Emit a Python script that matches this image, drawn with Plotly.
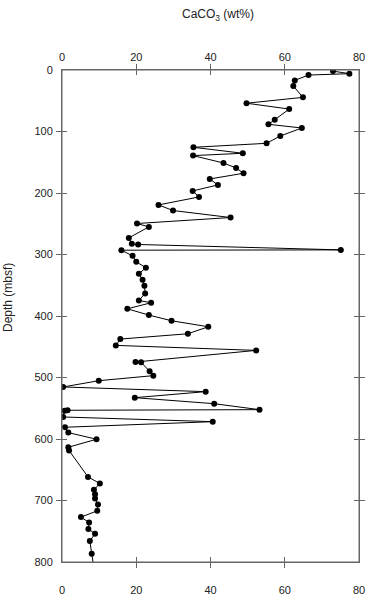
import plotly.graph_objects as go

caco3 = [73.0, 77.4, 66.4, 62.7, 62.3, 64.9, 49.7, 61.2, 57.3, 55.6, 64.6,
         58.8, 55.1, 35.4, 48.7, 35.3, 43.5, 46.9, 48.9, 39.8, 42.0, 35.2,
         36.9, 26.0, 29.9, 45.4, 20.2, 23.4, 18.0, 18.8, 20.5, 75.1, 16.0,
         19.0, 20.0, 22.6, 20.7, 21.7, 22.2, 22.4, 20.7, 24.0, 17.6, 23.4,
         29.5, 39.4, 33.9, 15.7, 14.5, 52.3, 19.8, 21.3, 23.6, 24.6, 9.9,
         0.3, 38.7, 19.6, 41.0, 53.2, 1.5, 0.7, 0.3, 40.6, 0.8, 1.7, 9.3,
         1.7, 1.9, 7.0, 10.2, 8.6, 8.9, 8.9, 9.7, 9.5, 5.1, 7.3, 7.1, 8.9,
         7.5, 8.0, 8.5]
depth = [1.8, 6.0, 8.2, 16.9, 26.0, 44.5, 54.0, 63.5, 80.8, 88.3, 94.3,
         107.3, 119.2, 125.7, 135.4, 139.2, 151.2, 159.3, 167.9, 177.2, 186.9,
         196.6, 206.4, 219.4, 228.5, 239.9, 249.6, 255.1, 273.0, 282.7, 283.7,
         292.5, 293.0, 302.2, 311.9, 321.6, 331.4, 341.1, 350.9, 363.3, 374.7,
         378.5, 388.3, 398.5, 407.7, 417.5, 428.9, 437.5, 447.8, 455.9, 474.8,
         475.3, 490.0, 497.0, 505.2, 515.4, 523.0, 532.8, 542.6, 552.3, 553.3,
         553.9, 564.2, 571.8, 580.9, 589.6, 600.4, 613.4, 618.8, 661.6, 672.4,
         682.7, 689.7, 696.8, 706.5, 716.8, 727.0, 735.8, 746.5, 754.1, 766.0,
         786.6, 806.0]

x_ticks = [0, 20, 40, 60, 80]
y_ticks = [0, 100, 200, 300, 400, 500, 600, 700, 800]

FAM = "Liberation Sans, Arial, sans-serif"
tick_font = dict(family=FAM, size=11, color="#222")
title_font = dict(family=FAM, size=12, color="#222")
AXC = "#666"

fig = go.Figure()
fig.add_trace(go.Scatter(
    x=caco3, y=depth, mode="lines+markers",
    line=dict(color="black", width=1),
    marker=dict(color="black", size=6),
    showlegend=False, hoverinfo="skip"))
# dummy traces so that the label-only axes are drawn
for xa, ya in [("x2", "y"), ("x3", "y"), ("x", "y2")]:
    fig.add_trace(go.Scatter(x=[None], y=[None], xaxis=xa, yaxis=ya,
                             mode="markers", showlegend=False,
                             hoverinfo="skip"))

frame = dict(showgrid=False, zeroline=False, showline=True, linecolor=AXC,
             linewidth=1, ticks="inside", ticklen=5, tickcolor=AXC,
             tickwidth=1, mirror="allticks", showticklabels=False,
             automargin=False)
labels = dict(showgrid=False, zeroline=False, showline=False,
              ticks="outside", tickcolor="rgba(0,0,0,0)",
              tickfont=tick_font, automargin=False)

fig.update_layout(
    width=370, height=600,
    margin=dict(l=62, r=11, t=70, b=38),
    plot_bgcolor="white", paper_bgcolor="white",
    font=tick_font,
    xaxis=dict(range=[0, 80], tickvals=x_ticks, side="bottom", **frame),
    xaxis2=dict(range=[0, 80], tickvals=x_ticks, side="top",
                overlaying="x", anchor="y", ticklen=4, **labels),
    xaxis3=dict(range=[0, 80], tickvals=x_ticks, side="bottom",
                overlaying="x", anchor="y", ticklen=18, **labels),
    yaxis=dict(range=[800, 0], tickvals=y_ticks, **frame),
    yaxis2=dict(range=[800, 0], tickvals=y_ticks, side="left",
                overlaying="y", anchor="x", ticklen=6, **labels),
    shapes=[dict(type="rect", xref="paper", yref="paper",
                 x0=0, x1=1, y0=0, y1=1, layer="above",
                 line=dict(color=AXC, width=1))],
    annotations=[
        dict(text="CaCO<sub>3</sub> (wt%)", xref="paper", yref="paper",
             x=0.5, y=1, xshift=7, yshift=55, showarrow=False,
             xanchor="center", yanchor="middle", font=title_font),
        dict(text="Depth (mbsf)", xref="paper", yref="paper",
             x=0, y=0.5, xshift=-54, yshift=18, showarrow=False,
             textangle=-90, xanchor="center", yanchor="middle",
             font=title_font),
    ],
)

fig.write_html("out.html",
               config={"displayModeBar": False},
               post_script="document.body.style.margin='0';")
